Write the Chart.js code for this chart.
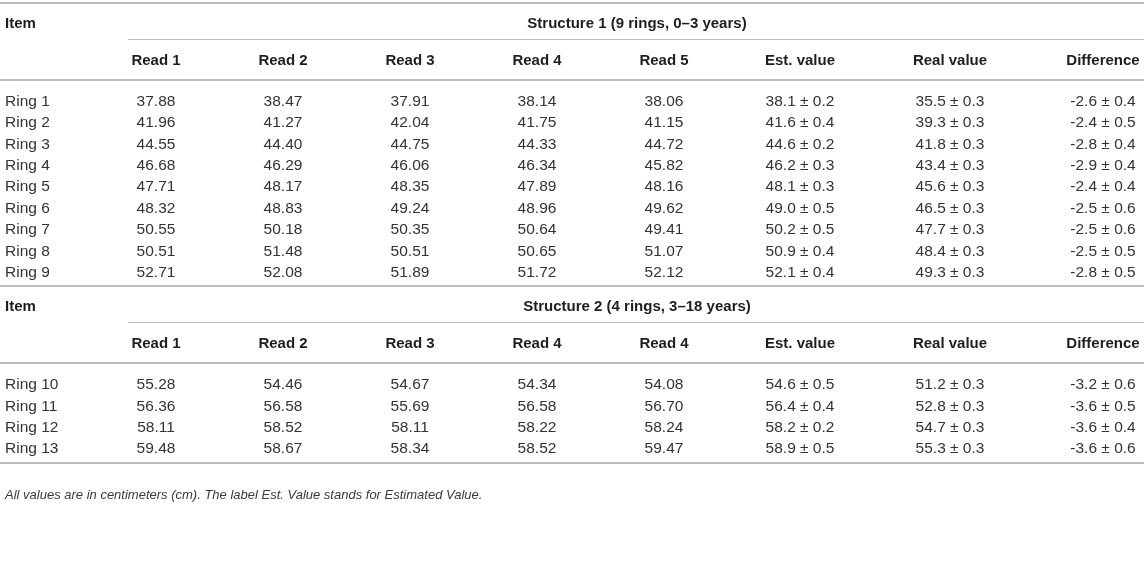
<!DOCTYPE html>
<html>
<head>
<meta charset="utf-8">
<script src="https://cdn.jsdelivr.net/npm/chart.js@4.4.1/dist/chart.umd.min.js"></script>
<style>
    html, body { margin: 0; padding: 0; background: #fff; }
    #wrap { width: 1144px; height: 568px; position: relative; }
</style>
</head>
<body>
<div id="wrap"><canvas id="ring-table"></canvas></div>
<script>
// Table content
const itemHead = 'Item';
const title1 = 'Structure 1 (9 rings, 0–3 years)';
const title2 = 'Structure 2 (4 rings, 3–18 years)';
const columnHeads1 = ['Read 1', 'Read 2', 'Read 3', 'Read 4', 'Read 5', 'Est. value', 'Real value', 'Difference'];
const columnHeads2 = ['Read 1', 'Read 2', 'Read 3', 'Read 4', 'Read 4', 'Est. value', 'Real value', 'Difference'];
const footNote = 'All values are in centimeters (cm). The label Est. Value stands for Estimated Value.';

// Structure 1
const rings1 = ['Ring 1', 'Ring 2', 'Ring 3', 'Ring 4', 'Ring 5', 'Ring 6', 'Ring 7', 'Ring 8', 'Ring 9'];
const reads1 = [
    [37.88, 38.47, 37.91, 38.14, 38.06],
    [41.96, 41.27, 42.04, 41.75, 41.15],
    [44.55, 44.40, 44.75, 44.33, 44.72],
    [46.68, 46.29, 46.06, 46.34, 45.82],
    [47.71, 48.17, 48.35, 47.89, 48.16],
    [48.32, 48.83, 49.24, 48.96, 49.62],
    [50.55, 50.18, 50.35, 50.64, 49.41],
    [50.51, 51.48, 50.51, 50.65, 51.07],
    [52.71, 52.08, 51.89, 51.72, 52.12]
];
const est1 = [38.1, 41.6, 44.6, 46.2, 48.1, 49.0, 50.2, 50.9, 52.1];
const estSd1 = [0.2, 0.4, 0.2, 0.3, 0.3, 0.5, 0.5, 0.4, 0.4];
const real1 = [35.5, 39.3, 41.8, 43.4, 45.6, 46.5, 47.7, 48.4, 49.3];
const realSd1 = [0.3, 0.3, 0.3, 0.3, 0.3, 0.3, 0.3, 0.3, 0.3];
const diff1 = [-2.6, -2.4, -2.8, -2.9, -2.4, -2.5, -2.5, -2.5, -2.8];
const diffSd1 = [0.4, 0.5, 0.4, 0.4, 0.4, 0.6, 0.6, 0.5, 0.5];

// Structure 2
const rings2 = ['Ring 10', 'Ring 11', 'Ring 12', 'Ring 13'];
const reads2 = [
    [55.28, 54.46, 54.67, 54.34, 54.08],
    [56.36, 56.58, 55.69, 56.58, 56.70],
    [58.11, 58.52, 58.11, 58.22, 58.24],
    [59.48, 58.67, 58.34, 58.52, 59.47]
];
const est2 = [54.6, 56.4, 58.2, 58.9];
const estSd2 = [0.5, 0.4, 0.2, 0.5];
const real2 = [51.2, 52.8, 54.7, 55.3];
const realSd2 = [0.3, 0.3, 0.3, 0.3];
const diff2 = [-3.2, -3.6, -3.6, -3.6];
const diffSd2 = [0.6, 0.5, 0.4, 0.6];

// Layout (table units on the chart's scales)
const colX = [5, 156, 283, 410, 537, 664, 800, 950, 1103];
const subRuleStart = 128;
const titleX = 637;
const rowStep = 21.4;
const blocks = [
    { top: 3, title: 23.5, sub: 39, heads: 60.5, rule: 80, first: 101.5, end: 286 },
    { top: 286, title: 307, sub: 322, heads: 344, rule: 363, first: 385, end: 463 }
];
const noteY = 495;
const ruleColor = '#bcbcbc';

const pm = (v, sd) => `${v.toFixed(1)} \u00b1 ${sd.toFixed(1)}`;

function buildBlock(b, title, heads, rings, reads, est, estSd, real, realSd, diff, diffSd, out) {
    out.bold.push({ x: colX[0], y: b.title, text: itemHead, align: 'left' });
    out.bold.push({ x: titleX, y: b.title, text: title, align: 'center' });
    heads.forEach((h, i) => out.bold.push({ x: colX[i + 1], y: b.heads, text: h, align: 'center' }));
    rings.forEach((r, i) => {
        const y = b.first + i * rowStep;
        out.body.push({ x: colX[0], y, text: r, align: 'left' });
        reads[i].forEach((v, j) => out.body.push({ x: colX[j + 1], y, text: v.toFixed(2), align: 'center' }));
        out.body.push({ x: colX[6], y, text: pm(est[i], estSd[i]), align: 'center' });
        out.body.push({ x: colX[7], y, text: pm(real[i], realSd[i]), align: 'center' });
        out.body.push({ x: colX[8], y, text: pm(diff[i], diffSd[i]), align: 'center' });
    });
    out.rules.push({ x0: 0, x1: 1144, y: b.top, w: 2 });
    out.rules.push({ x0: subRuleStart, x1: 1144, y: b.sub, w: 1.2 });
    out.rules.push({ x0: 0, x1: 1144, y: b.rule, w: 2 });
    out.rules.push({ x0: 0, x1: 1144, y: b.end, w: 2 });
}

const cells = { bold: [], body: [], rules: [] };
buildBlock(blocks[0], title1, columnHeads1, rings1, reads1, est1, estSd1, real1, realSd1, diff1, diffSd1, cells);
buildBlock(blocks[1], title2, columnHeads2, rings2, reads2, est2, estSd2, real2, realSd2, diff2, diffSd2, cells);
const noteCells = [{ x: colX[0], y: noteY, text: footNote, align: 'left' }];

// Draws rules and cell text at the positions the scales give each point
const tableText = {
    id: 'tableText',
    afterDatasetsDraw(chart) {
        const { ctx, scales: { x, y } } = chart;
        ctx.save();
        ctx.strokeStyle = ruleColor;
        cells.rules.forEach(r => {
            const py = Math.round(y.getPixelForValue(r.y)) + (r.w % 2 ? 0.5 : 0);
            ctx.lineWidth = r.w;
            ctx.beginPath();
            ctx.moveTo(x.getPixelForValue(r.x0), py);
            ctx.lineTo(x.getPixelForValue(r.x1), py);
            ctx.stroke();
        });
        ctx.textBaseline = 'middle';
        chart.data.datasets.forEach((ds, i) => {
            const meta = chart.getDatasetMeta(i);
            ctx.font = ds.textFont;
            ctx.fillStyle = ds.textColor;
            meta.data.forEach((pt, j) => {
                const cell = ds.data[j];
                ctx.textAlign = cell.align;
                ctx.fillText(cell.text, pt.x, pt.y);
            });
        });
        ctx.restore();
    }
};

const ctx = document.getElementById('ring-table').getContext('2d');
new Chart(ctx, {
    type: 'scatter',
    data: {
        datasets: [
            { label: 'heads', data: cells.bold, textFont: 'bold 15px "Liberation Sans", Arial, sans-serif', textColor: '#1e1e1e' },
            { label: 'body', data: cells.body, textFont: '15.5px "Liberation Sans", Arial, sans-serif', textColor: '#333333' },
            { label: 'note', data: noteCells, textFont: 'italic 13px "Liberation Sans", Arial, sans-serif', textColor: '#3a3a3a' }
        ].map(ds => ({ ...ds, pointRadius: 0, pointHoverRadius: 0, showLine: false }))
    },
    options: {
        responsive: true,
        maintainAspectRatio: false,
        animation: false,
        events: [],
        layout: { padding: 0 },
        plugins: { legend: { display: false }, tooltip: { enabled: false } },
        scales: {
            x: { type: 'linear', min: 0, max: 1144, display: false },
            y: { type: 'linear', min: 0, max: 568, reverse: true, display: false }
        }
    },
    plugins: [tableText]
});
</script>
</body>
</html>
